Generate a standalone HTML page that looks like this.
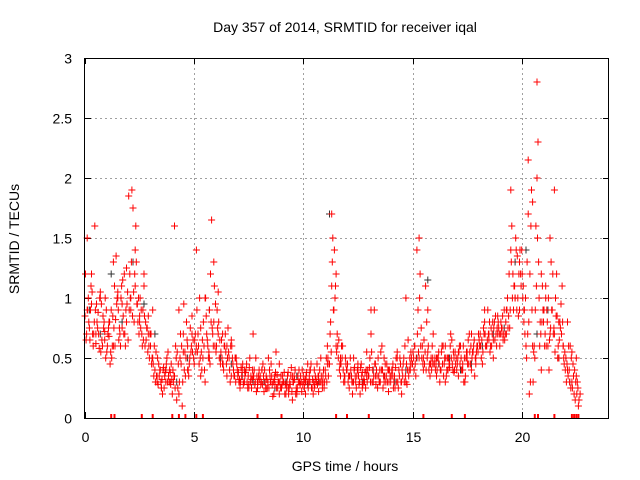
<!DOCTYPE html>
<html><head><meta charset="utf-8"><style>
html,body{margin:0;padding:0;background:#fff}
svg{display:block;font-family:"Liberation Sans",sans-serif}
</style></head><body>
<svg id="chart" width="640" height="480" viewBox="0 0 640 480">
<text x="345" y="32" font-size="14" text-anchor="middle" fill="#000">Day 357 of 2014, SRMTID for receiver iqal</text>
<text x="345" y="471" font-size="14" text-anchor="middle" fill="#000">GPS time / hours</text>
<text transform="translate(19,239) rotate(-90)" font-size="14" text-anchor="middle" fill="#000">SRMTID / TECUs</text>
<g id="grid"></g>
<g id="ticks"></g>
<g id="marks"></g>
<rect x="84.5" y="58.5" width="524" height="360" fill="none" stroke="#000" stroke-width="1"/>
</svg>
<script>
const xTicks=[0,5,10,15,20];
const yTicks=[0,0.5,1,1.5,2,2.5,3];
const yTickLabels=["0","0.5","1","1.5","2","2.5","3"];
const startA=0.0, stepA=0.1;
const satA=[0.85,1.5,0.75,0.95,0.7,0.62,0.88,1.05,0.6,0.72,
0.55,0.68,0.9,1.3,0.82,1.05,0.7,0.95,1.2,0.8,
1.85,0.9,1.75,1.1,0.95,0.8,0.7,1.1,0.65,0.85,
0.6,0.5,0.4,0.3,0.35,0.25,0.42,0.3,0.55,0.38,
0.2,0.35,0.15,0.9,0.45,0.7,0.35,0.6,0.5,0.85,
0.45,1.4,0.6,0.75,0.5,0.3,0.65,0.9,1.65,0.8,
0.55,1.05,0.45,0.7,0.6,0.35,0.5,0.65,0.4,0.3,
0.35,0.25,0.4,0.3,0.45,0.28,0.35,0.7,0.3,0.25,
0.32,0.4,0.22,0.35,0.5,0.3,0.18,0.28,0.36,0.45,
0.25,0.3,0.2,0.38,0.28,0.15,0.32,0.22,0.4,0.3,
0.35,0.2,0.45,0.3,0.25,0.4,0.3,0.22,0.5,0.35,
0.4,0.6,0.45,1.7,0.9,1.2,0.5,0.35,0.6,0.3,
0.4,0.25,0.35,0.5,0.3,0.45,0.2,0.38,0.3,0.55,
0.35,0.7,0.3,0.45,0.25,0.4,0.6,0.3,0.35,0.22,
0.3,0.45,0.25,0.55,0.35,0.2,0.5,0.3,0.65,0.4,
0.45,0.6,1.4,0.5,0.75,0.4,1.1,0.55,0.35,0.6,
0.45,0.35,0.55,0.4,0.6,0.3,0.5,0.42,0.65,0.38,
0.5,0.35,0.6,0.45,0.3,0.55,0.7,0.4,0.6,0.5,
0.55,0.7,0.45,0.8,0.6,0.65,0.75,0.5,0.85,0.7,
0.6,0.75,0.9,0.7,0.85,1.9,1.2,1.0,1.35,0.9,
1.4,0.8,0.6,2.15,0.3,1.8,0.5,2.8,1.0,0.4,
0.8,1.1,0.6,1.5,0.9,0.7,1.2,0.5,0.95,0.6,
0.4,0.8,0.3,0.55,0.2,0.35,0.1];
const startB=0.05, stepB=0.1;
const satB=[0.65,1.0,0.9,0.7,1.6,0.8,0.58,0.95,0.75,0.5,
0.7,0.45,0.6,1.1,0.95,0.65,1.0,0.85,0.6,1.05,
1.2,1.9,0.8,1.3,1.0,0.75,0.9,0.6,0.75,0.5,
0.45,0.35,0.55,0.28,0.4,0.2,0.35,0.5,0.3,0.45,
0.3,0.6,0.25,0.5,0.1,0.4,0.8,0.35,0.55,0.65,
0.7,0.55,1.0,0.4,0.6,0.85,0.5,1.2,0.7,0.6,
0.9,0.5,0.65,0.4,0.55,0.75,0.3,0.5,0.35,0.45,
0.3,0.42,0.28,0.38,0.25,0.5,0.32,0.4,0.22,0.35,
0.28,0.45,0.3,0.25,0.4,0.35,0.2,0.55,0.3,0.25,
0.35,0.2,0.3,0.25,0.42,0.3,0.2,0.35,0.28,0.4,
0.25,0.38,0.3,0.45,0.2,0.35,0.28,0.4,0.3,0.25,
0.5,0.35,0.8,1.5,1.0,0.7,0.4,0.6,0.3,0.45,
0.3,0.5,0.2,0.42,0.35,0.28,0.45,0.3,0.25,0.4,
0.5,0.3,0.9,0.4,0.35,0.55,0.25,0.45,0.3,0.4,
0.4,0.3,0.5,0.25,0.45,0.35,0.6,0.28,0.4,0.5,
0.5,0.35,0.9,1.2,0.6,0.45,0.8,0.4,0.5,0.7,
0.4,0.5,0.3,0.6,0.45,0.35,0.5,0.7,0.4,0.55,
0.45,0.6,0.4,0.3,0.5,0.65,0.45,0.55,0.35,0.6,
0.65,0.5,0.75,0.6,0.9,0.55,0.7,0.8,0.6,0.75,
0.8,0.65,0.7,1.0,0.75,1.6,1.1,1.4,0.85,1.2,
1.0,0.7,1.3,0.2,1.9,0.55,1.6,2.3,0.8,1.1,
0.6,0.9,0.4,1.3,0.7,1.0,0.5,0.8,1.1,0.45,
0.3,0.6,0.25,0.45,0.15,0.3];
const startC=0.1, stepC=0.2;
const satC=[0.9,1.2,0.7,1.0,0.65, 0.8,0.6,1.0,0.75,1.25, 1.0,1.4,0.85,1.2,0.7,
0.9,0.35,0.25,0.4,0.3, 1.6,0.2,0.55,0.4,0.7, 0.6,0.35,1.0,0.5,1.3,
0.7,0.45,0.6,0.35,0.5, 0.3,0.4,0.25,0.35,0.3, 0.4,0.25,0.3,0.35,0.2,
0.3,0.25,0.35,0.2,0.3, 0.3,0.4,0.25,0.35,0.3, 0.45,1.1,0.6,0.5,0.35,
0.35,0.3,0.4,0.25,0.35, 0.9,0.35,0.3,0.5,0.4, 0.35,0.5,0.3,1.0,0.45,
0.6,1.5,0.5,0.9,0.45, 0.5,0.4,0.6,0.45,0.5, 0.55,0.4,0.5,0.7,0.45,
0.6,0.9,0.7,0.65,0.85, 0.7,0.9,1.4,1.0,1.3, 0.9,1.7,0.6,2.0,1.2,
1.0,0.7,1.9,0.8,0.6, 0.4,0.3,0.5];
const startD=0.025, stepD=0.1;
const satD=[1.2,0.9,0.65,1.05,0.8,0.95,0.7,0.55,0.85,1.0,
0.6,0.8,0.5,0.75,1.35,0.9,0.6,1.15,0.7,0.95,
0.9,1.3,1.05,1.6,0.8,1.0,0.6,0.85,0.75,0.6,
0.7,0.45,0.3,0.5,0.4,0.32,0.25,0.45,0.35,0.28,
0.4,0.25,0.55,0.3,0.6,0.95,0.5,0.4,0.75,0.55,
0.65,0.9,0.45,0.55,0.8,1.0,0.6,0.45,0.75,1.1,
0.6,0.8,0.55,0.45,0.7,0.5,0.4,0.6,0.35,0.5,
0.38,0.3,0.45,0.35,0.3,0.42,0.25,0.35,0.5,0.3,
0.35,0.28,0.4,0.32,0.25,0.45,0.3,0.38,0.25,0.3,
0.28,0.38,0.25,0.2,0.35,0.3,0.4,0.25,0.3,0.22,
0.3,0.35,0.25,0.4,0.32,0.28,0.45,0.3,0.35,0.4,
0.35,0.5,0.7,1.3,1.4,0.55,0.65,0.45,0.4,0.5,
0.45,0.35,0.3,0.4,0.25,0.35,0.42,0.28,0.38,0.3,
0.42,0.55,0.35,0.28,0.5,0.3,0.4,0.35,0.45,0.3,
0.35,0.25,0.42,0.3,0.5,0.4,0.3,0.45,0.35,0.55,
0.55,0.45,0.7,1.0,0.5,0.65,0.4,0.6,0.45,0.5,
0.5,0.4,0.45,0.55,0.35,0.5,0.4,0.6,0.45,0.4,
0.4,0.55,0.5,0.6,0.35,0.45,0.55,0.5,0.65,0.55,
0.7,0.6,0.55,0.7,0.65,0.8,0.6,0.75,0.7,0.8,
0.7,0.85,0.65,0.9,1.2,1.3,0.9,1.5,1.0,1.4,
1.2,0.9,0.5,0.8,1.6,0.3,0.9,1.5,0.6,0.8,
0.9,0.6,1.0,0.75,1.2,0.55,0.85,0.65,0.7,0.5,
0.5,0.35,0.6,0.25,0.4,0.2,0.15];
const startE=0.075, stepE=0.1;
const satE=[0.7,0.8,1.1,0.6,0.9,0.75,1.0,0.65,0.8,0.9,
0.75,0.55,0.85,0.6,1.0,0.75,1.1,0.7,0.9,0.65,
1.0,0.85,1.2,0.95,0.7,0.9,0.65,0.8,0.55,0.7,
0.5,0.6,0.35,0.45,0.3,0.4,0.38,0.3,0.4,0.32,
0.35,0.5,0.45,0.7,0.3,0.55,0.65,0.45,0.6,0.5,
0.55,0.7,0.5,0.65,0.4,0.7,0.55,0.8,0.6,0.95,
0.75,0.65,0.5,0.6,0.45,0.55,0.6,0.45,0.5,0.4,
0.32,0.35,0.3,0.4,0.35,0.3,0.4,0.28,0.35,0.4,
0.3,0.35,0.25,0.3,0.35,0.28,0.32,0.25,0.3,0.35,
0.3,0.28,0.35,0.3,0.22,0.35,0.25,0.3,0.35,0.28,
0.32,0.3,0.35,0.25,0.3,0.32,0.35,0.3,0.25,0.3,
0.3,0.45,0.55,0.9,1.1,0.6,0.45,0.5,0.35,0.4,
0.35,0.4,0.3,0.35,0.4,0.3,0.35,0.32,0.4,0.35,
0.3,0.4,0.45,0.35,0.3,0.4,0.35,0.3,0.4,0.35,
0.4,0.35,0.3,0.4,0.3,0.45,0.35,0.4,0.5,0.45,
0.4,0.5,0.55,0.6,0.45,0.55,0.5,0.45,0.4,0.45,
0.45,0.5,0.4,0.45,0.5,0.4,0.45,0.5,0.55,0.45,
0.5,0.45,0.4,0.5,0.55,0.45,0.6,0.55,0.5,0.6,
0.6,0.65,0.7,0.6,0.7,0.6,0.8,0.65,0.75,0.7,
0.75,0.7,0.8,0.75,0.9,1.0,1.1,0.9,1.2,1.1,
1.1,1.0,0.7,1.2,0.9,0.6,1.1,1.3,0.7,0.9,
0.7,0.8,0.65,0.9,0.75,0.85,0.6,0.75,0.8,0.55,
0.45,0.4,0.5,0.35,0.3,0.25,0.2];
const startK=0.2, stepK=0.5;
const satK=[0.9,0.7,1.2,0.8,1.3,0.95,0.7,0.4,0.3,0.5,0.6,0.9,0.5,0.45,0.35,0.3,0.3,0.25,0.3,0.35,0.28,0.3,1.7,0.45,0.35,0.3,0.4,0.35,0.3,0.4,0.5,1.15,0.45,0.5,0.4,0.45,0.6,0.7,0.75,1.3,1.4,0.7,0.9,0.5,0.3];
const zeroTimes=[1.2,1.35,2.6,3.1,4.0,4.3,4.6,5.1,5.4,7.9,9.0,11.5,12.0,13.0,15.5,16.8,17.4,20.6,20.75,21.5,22.3,22.4,22.5,22.6];

const X0=85,X1=609,Y0=418,Y1=58,XMAX=24,YMAX=3;
const sx=v=>X0+(X1-X0)*v/XMAX;
const sy=v=>Y0-(Y0-Y1)*v/YMAX;
const NS="http://www.w3.org/2000/svg";
function mk(tag,attrs,parent){const e=document.createElementNS(NS,tag);for(const k in attrs)e.setAttribute(k,attrs[k]);parent.appendChild(e);return e;}
const grid=document.getElementById('grid'),ticks=document.getElementById('ticks'),marks=document.getElementById('marks');
xTicks.forEach(t=>{
  const x=Math.round(sx(t))+0.5;
  if(t>0){const g=mk('line',{x1:x,x2:x,y1:Y1,y2:Y0,stroke:'#a0a0a0','stroke-dasharray':'2,3'},grid);
  
  }
  const tk=mk('path',{d:`M${x},${Y0}v-6M${x},${Y1}v6`,stroke:'#000'},ticks);
  
  
  const lb=mk('text',{x:x,y:Y0+24,'font-size':14,'text-anchor':'middle'},ticks);lb.textContent=String(t);
  
  
});
yTicks.forEach((t,i)=>{
  const y=Math.round(sy(t))+0.5;
  if(t>0&&t<YMAX){const g=mk('line',{x1:X0,x2:X1,y1:y,y2:y,stroke:'#a0a0a0','stroke-dasharray':'2,3'},grid);
  
  }
  const tk=mk('path',{d:`M${X0},${y}h6M${X1},${y}h-6`,stroke:'#000'},ticks);
  
  
  const lb=mk('text',{x:72,y:y+5,'font-size':14,'text-anchor':'end'},ticks);lb.textContent=yTickLabels[i];
  
  
});
function plus(t,v,color,name){
  const x=sx(t),y=sy(v);
  const p=mk('path',{d:`M${(x-3.5).toFixed(1)},${y.toFixed(1)}h7M${x.toFixed(1)},${(y-3.5).toFixed(1)}v7`,stroke:color,'stroke-width':1,fill:'none'},marks);
  
  
}
satK.forEach((v,i)=>plus(startK+i*stepK,v,'#333','point-black'));
satA.forEach((v,i)=>plus(startA+i*stepA,v,'#ff0000','point-red'));
satB.forEach((v,i)=>plus(startB+i*stepB,v,'#ff0000','point-red'));
satC.forEach((v,i)=>plus(startC+i*stepC,v,'#ff0000','point-red'));
satD.forEach((v,i)=>plus(startD+i*stepD,v,'#ff0000','point-red'));
satE.forEach((v,i)=>plus(startE+i*stepE,v,'#ff0000','point-red'));
zeroTimes.forEach(t=>{
  const x=sx(t);
  const p=mk('path',{d:`M${x.toFixed(1)},${Y0-4}v4`,stroke:'#ff0000','stroke-width':2},marks);
  
  
});
</script>
</body></html>
